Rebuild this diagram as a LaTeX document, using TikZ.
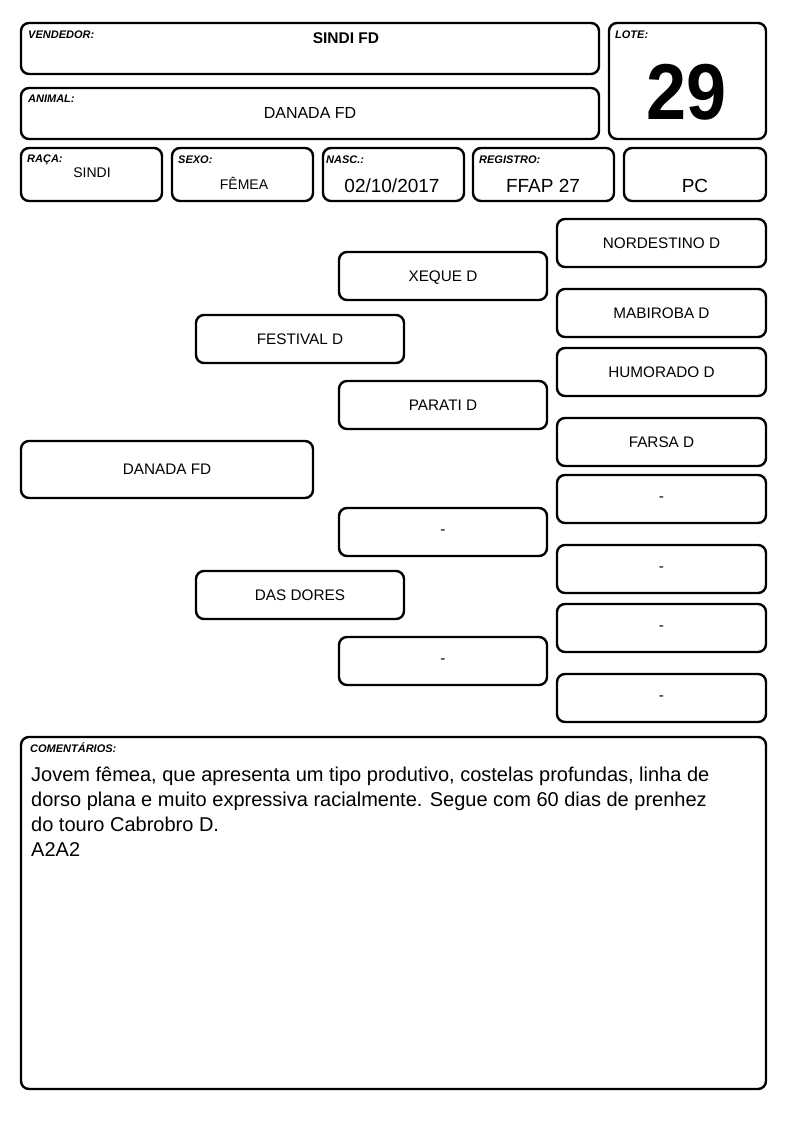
\documentclass[tikz,border=0pt]{standalone}
\usepackage{fontspec}
\setmainfont{Liberation Sans}
\begin{document}
\begin{tikzpicture}[x=1pt,y=-1pt,
  box/.style={draw=black,line width=2.4pt,rounded corners=8pt,inner sep=0pt,fill=white},
  lbl/.style={font=\fontsize{11}{12}\selectfont\bfseries\itshape,anchor=base west,inner sep=0pt},
  val/.style={font=\fontsize{14}{16}\selectfont,anchor=base,inner sep=0pt},
  big/.style={font=\fontsize{19}{22}\selectfont,anchor=base,inner sep=0pt},
  ped/.style={box,font=\fontsize{15.3}{17}\selectfont,minimum width=208pt,minimum height=48pt,text depth=-1pt}]
\useasboundingbox[fill=white] (0,0) rectangle (794,1123);
% header boxes
\node[box,minimum width=578pt,minimum height=51pt] (vend) at (310,48.5) {};
\node[box,minimum width=578pt,minimum height=51pt] (anim) at (310,113.5) {};
\node[box,minimum width=157pt,minimum height=116pt] (lote) at (687.5,81) {};
\node[box,minimum width=141pt,minimum height=53pt] (raca) at (91.5,174.5) {};
\node[box,minimum width=141pt,minimum height=53pt] (sexo) at (242.5,174.5) {};
\node[box,minimum width=141pt,minimum height=53pt] (nasc) at (393.5,174.5) {};
\node[box,minimum width=141pt,minimum height=53pt] (reg) at (543.5,174.5) {};
\node[box,minimum width=142pt,minimum height=53pt] (pc) at (695,174.5) {};
% labels
\node[lbl] (lvend) at (28,39) {VENDEDOR:};
\node[font=\fontsize{15.5}{18}\selectfont\bfseries,anchor=base,inner sep=0pt] (tvend) at (346,44) {SINDI FD};
\node[lbl] (lanim) at (28,103) {ANIMAL:};
\node[font=\fontsize{16}{18}\selectfont,anchor=base,inner sep=0pt] (tanim) at (310,119) {DANADA FD};
\node[lbl] (llote) at (615,39) {LOTE:};
\node[font=\fontsize{72}{80}\selectfont\bfseries,anchor=base,inner sep=0pt,yscale=1.1] (tlote) at (687,120) {29};
\node[lbl] (lraca) at (27,163) {RAÇA:};
\node[val] (traca) at (92,178) {SINDI};
\node[lbl] (lsexo) at (178,164) {SEXO:};
\node[val] (tsexo) at (244,190) {FÊMEA};
\node[lbl] (lnasc) at (326,164) {NASC.:};
\node[big] (tnasc) at (392,193) {02/10/2017};
\node[lbl] (lreg) at (479,164) {REGISTRO:};
\node[big] (treg) at (543,193) {FFAP 27};
\node[big] (tpc) at (695,193) {PC};
% pedigree
\node[box,font=\fontsize{15.3}{17}\selectfont,minimum width=292pt,minimum height=57pt] (animal) at (167,469.5) {DANADA FD};
\node[ped] (pai) at (300,339) {FESTIVAL D};
\node[ped] (mae) at (300,595) {DAS DORES};
\node[ped] (avop) at (443,276) {XEQUE D};
\node[ped] (avap) at (443,405) {PARATI D};
\node[ped] (avom) at (443,532) {-};
\node[ped] (avam) at (443,661) {-};
\node[ped,minimum width=209pt] (b1) at (661.5,243) {NORDESTINO D};
\node[ped,minimum width=209pt] (b2) at (661.5,313) {MABIROBA D};
\node[ped,minimum width=209pt] (b3) at (661.5,372) {HUMORADO D};
\node[ped,minimum width=209pt] (b4) at (661.5,442) {FARSA D};
\node[ped,minimum width=209pt] (b5) at (661.5,499) {-};
\node[ped,minimum width=209pt] (b6) at (661.5,569) {-};
\node[ped,minimum width=209pt] (b7) at (661.5,628) {-};
\node[ped,minimum width=209pt] (b8) at (661.5,698) {-};
% comments
\node[box,minimum width=745pt,minimum height=352pt] (com) at (393.5,913) {};
\node[lbl] (lcom) at (30,752) {COMENTÁRIOS:};
\node[anchor=north west,inner sep=0pt,align=left,font=\fontsize{20}{25}\selectfont] (tcom) at (31,766.4) {Jovem fêmea, que apresenta um tipo produtivo, costelas profundas, linha de\\dorso plana e muito expressiva racialmente. Segue com 60 dias de prenhez\\do touro Cabrobro D.\\A2A2};
\end{tikzpicture}
\end{document}
